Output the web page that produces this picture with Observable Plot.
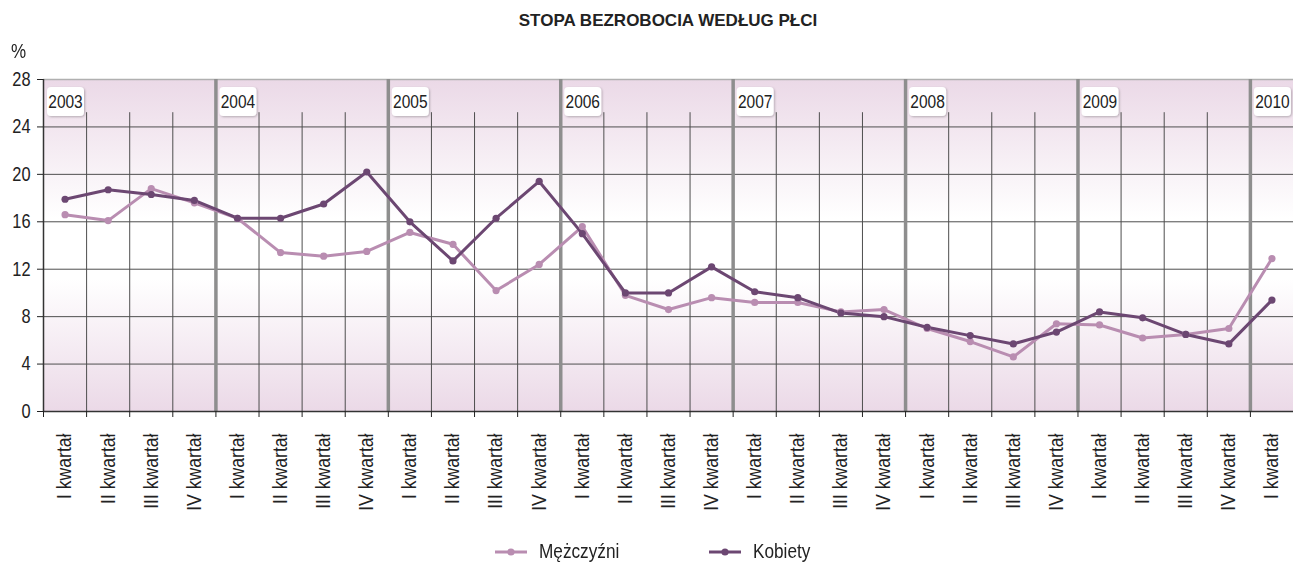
<!DOCTYPE html>
<html>
<head>
<meta charset="utf-8">
<script src="https://cdn.jsdelivr.net/npm/d3@7"></script>
<script src="https://cdn.jsdelivr.net/npm/@observablehq/plot@0.6"></script>
<style>
  body { margin: 0; background: #fff; width: 1293px; height: 566px; position: relative; overflow: hidden;
         font-family: "Liberation Sans", Arial, sans-serif; color: #222; }
  #title { position: absolute; left: 43px; right: 0; top: 11px; text-align: center; font-weight: bold; font-size: 17px; }
  #unit { position: absolute; left: 11px; top: 40px; font-size: 20px; transform: scaleX(0.85); transform-origin: left center; }
  #chart { position: absolute; left: 0; top: 40px; }
  .leg { position: absolute; top: 540px; display: flex; align-items: center; font-size: 20px; }
  .leg svg { margin-right: 11px; }
  .leg span { display: inline-block; transform: scaleX(0.86); transform-origin: left center; }
</style>
</head>
<body>
<div id="title">STOPA BEZROBOCIA WEDŁUG PŁCI</div>
<div id="unit">%</div>
<div id="chart"></div>
<div class="leg" id="legM" style="left:494px"></div>
<div class="leg" id="legK" style="left:708px"></div>
<script>
// ---- data ----
const years = ["2003", "2004", "2005", "2006", "2007", "2008", "2009", "2010"];
const quarterLabels = ["I kwartał", "II kwartał", "III kwartał", "IV kwartał"];
const seriesNames = ["Mężczyźni", "Kobiety"];
const seriesColors = ["#b98db1", "#6c4772"];
const yTicks = [0, 4, 8, 12, 16, 20, 24, 28];
const men = [16.6, 16.1, 18.8, 17.6, 16.3, 13.4, 13.1, 13.5, 15.1, 14.1, 10.2, 12.4, 15.6, 9.8, 8.6, 9.6,
             9.2, 9.2, 8.4, 8.6, 7.0, 5.9, 4.6, 7.4, 7.3, 6.2, 6.5, 7.0, 12.9];
const women = [17.9, 18.7, 18.3, 17.8, 16.3, 16.3, 17.5, 20.2, 16.0, 12.7, 16.3, 19.4, 15.0, 10.0, 10.0, 12.2,
               10.1, 9.6, 8.3, 8.0, 7.1, 6.4, 5.7, 6.7, 8.4, 7.9, 6.5, 5.7, 9.4];

(function () {
const n = men.length;
const rows = [
  ...men.map((v, i) => ({pos: i + 0.5, v, s: seriesNames[0]})),
  ...women.map((v, i) => ({pos: i + 0.5, v, s: seriesNames[1]}))
];
const centers = d3.range(n).map(i => i + 0.5);
const bounds = d3.range(n + 1);
const yearBounds = bounds.filter(b => b % 4 === 0 && b > 0);
const minorBounds = bounds.filter(b => b % 4 !== 0 && b < n);

const FONT = '"Liberation Sans", Arial, sans-serif';

const plot = Plot.plot({
  width: 1293,
  height: 490,
  marginTop: 39,
  marginBottom: 119,
  marginLeft: 43,
  marginRight: 0,
  x: {domain: [0, n]},
  y: {domain: [0, 28]},
  color: {domain: seriesNames, range: seriesColors},
  style: {fontFamily: FONT, color: "#222", background: "transparent", overflow: "visible"},
  marks: [
    Plot.frame({fill: "url(#bgGrad)", stroke: null}),
    Plot.ruleY(yTicks.filter(t => t > 0 && t < 28), {stroke: "#4e4e4e", strokeWidth: 1}),
    Plot.ruleY([28], {stroke: "#b0b0b0", strokeWidth: 1.5}),
    Plot.ruleX(minorBounds, {y1: 25.2, y2: 0, stroke: "#4e4e4e", strokeWidth: 1}),
    Plot.ruleX(yearBounds, {stroke: "#8e8e8e", strokeWidth: 3.5}),
    Plot.ruleX([0], {stroke: "#333", strokeWidth: 1.5}),
    Plot.ruleY([0], {stroke: "#333", strokeWidth: 1.5}),
    Plot.axisY({ticks: yTicks, tickSize: 6, tickPadding: 7, fontSize: 20, label: null, tickFormat: d => d,
                className: "narrow-ytick"}),
    Plot.axisX({ticks: bounds.filter(b => b < n), tickSize: 6, tickFormat: () => "", label: null}),
    Plot.axisX({ticks: centers, tickSize: 0, tickPadding: 22, tickRotate: -90, fontSize: 20, label: null,
                tickFormat: p => quarterLabels[Math.floor(p) % 4], className: "narrow-xtick"}),
    Plot.line(rows, {x: "pos", y: "v", stroke: "s", z: "s", strokeWidth: 3}),
    Plot.dot(rows, {x: "pos", y: "v", fill: "s", r: 3.6})
  ]
});

// background gradient
const svg = d3.select(plot);
const defs = svg.insert("defs", ":first-child");
const grad = defs.append("linearGradient").attr("id", "bgGrad").attr("x1", 0).attr("y1", 0).attr("x2", 0).attr("y2", 1);
[[0, "#ebd9e7"], [0.42, "#ffffff"], [0.6, "#ffffff"], [1, "#ebd9e7"]].forEach(([o, c]) =>
  grad.append("stop").attr("offset", o).attr("stop-color", c));
defs.append("filter").attr("id", "shadow").attr("x", "-20%").attr("y", "-20%").attr("width", "150%").attr("height", "150%")
  .append("feDropShadow").attr("dx", 1).attr("dy", 1).attr("stdDeviation", 0.8).attr("flood-color", "#000").attr("flood-opacity", 0.25);

// year label boxes
const xs = plot.scale("x"), ys = plot.scale("y");
const topY = ys.apply(28);
const g = svg.append("g");
const yearTexts = [];
years.forEach((yr, k) => {
  const x0 = xs.apply(k * 4);
  g.append("rect").attr("x", x0 + 4).attr("y", topY + 8).attr("width", 37).attr("height", 29).attr("rx", 4)
    .attr("fill", "#fff").attr("filter", "url(#shadow)");
  yearTexts.push(g.append("text").attr("x", x0 + 22.5).attr("y", topY + 23).attr("text-anchor", "middle")
    .attr("dominant-baseline", "central").attr("font-size", 18).attr("font-family", FONT).attr("fill", "#222").text(yr).node());
});

document.getElementById("chart").appendChild(plot);

// compress glyphs horizontally to imitate a narrow face
function narrow(nodes, f) {
  nodes.forEach(t => {
    const L = t.getComputedTextLength();
    if (L > 0) { t.setAttribute("textLength", (L * f).toFixed(2)); t.setAttribute("lengthAdjust", "spacingAndGlyphs"); }
  });
}
narrow(Array.from(plot.querySelectorAll(".narrow-ytick text")), 0.82);
narrow(Array.from(plot.querySelectorAll(".narrow-xtick text")), 0.88);
narrow(yearTexts, 0.86);

// legend
function legend(id, name, color) {
  const el = d3.select("#" + id);
  const s = el.append("svg").attr("width", 34).attr("height", 12);
  s.append("line").attr("x1", 1).attr("x2", 33).attr("y1", 6).attr("y2", 6).attr("stroke", color).attr("stroke-width", 3);
  s.append("circle").attr("cx", 17).attr("cy", 6).attr("r", 3.6).attr("fill", color);
  el.append("span").text(name);
}
legend("legM", seriesNames[0], seriesColors[0]);
legend("legK", seriesNames[1], seriesColors[1]);
})();
</script>
</body>
</html>
